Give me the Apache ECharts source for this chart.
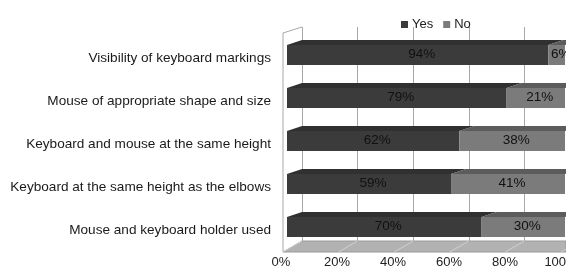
<!DOCTYPE html>
<html>
<head>
<meta charset="utf-8">
<script src="https://cdn.jsdelivr.net/npm/echarts@6/dist/echarts.min.js"></script>
<style>
  html, body { margin: 0; padding: 0; background: #fff; }
  #chart { width: 566px; height: 273px; }
</style>
</head>
<body>
<div id="chart"></div>
<script>
// data
const categories = [
  'Visibility of keyboard markings',
  'Mouse of appropriate shape and size',
  'Keyboard and mouse at the same height',
  'Keyboard at the same height as the elbows',
  'Mouse and keyboard holder used'
];
const yesValues = [94, 79, 62, 59, 70];
const noValues = [6, 21, 38, 41, 30];
const tickValues = [0, 20, 40, 60, 80, 100];

const YES = '#3b3b3b';
const NO = '#7b7b7b';
const DX = 15, DY = 5, BAR_W = 20;
const FONT = 'Liberation Sans, Arial';

const chart = echarts.init(document.getElementById('chart'));

// top face of every segment (fake 3D)
const topData = [];
categories.forEach((c, i) => {
  topData.push([0, yesValues[i], i, 0]);
  topData.push([yesValues[i], yesValues[i] + noValues[i], i, 1]);
});

function renderTop(params, api) {
  const a = api.coord([api.value(0), api.value(2)]);
  const b = api.coord([api.value(1), api.value(2)]);
  const y = a[1] - BAR_W / 2;
  return {
    type: 'polygon',
    shape: { points: [[a[0], y], [b[0], y], [b[0] + DX, y - DY], [a[0] + DX, y - DY]] },
    style: { fill: api.value(3) === 0 ? '#303030' : '#5c5c5c' }
  };
}

// slanted dividers on the floor
function renderFloor(params, api) {
  const p = api.coord([api.value(0), 0]);
  return {
    type: 'line',
    shape: { x1: p[0], y1: p[1], x2: p[0] - 19, y2: p[1] + 11 },
    style: { stroke: '#d0d0d0', lineWidth: 1 }
  };
}

const barLabel = (shadow) => ({
  show: true,
  position: 'inside',
  offset: [4, -1],
  formatter: '{c}%',
  fontFamily: FONT,
  fontSize: 13.5,
  color: '#111',
  textShadowColor: shadow,
  textShadowOffsetX: 1,
  textShadowBlur: 0
});

chart.setOption({
  animation: false,
  legend: {
    data: ['Yes', 'No'],
    left: 396,
    top: 13,
    itemWidth: 7,
    itemHeight: 7,
    itemGap: 10,
    icon: 'rect',
    textStyle: { fontFamily: FONT, fontSize: 13, color: '#222', padding: [0, 0, 0, -1] }
  },
  graphic: [
    { type: 'polyline', shape: { points: [[302, 27], [283, 33], [283, 252]] },
      style: { stroke: '#a8a8a8', lineWidth: 1, fill: null } },
    { type: 'polygon', z: -1, shape: { points: [[283, 252], [566, 252], [566, 241], [302, 241]] },
      style: { fill: '#b2b2b2', stroke: '#9a9a9a', lineWidth: 1 } }
  ],
  grid: [
    { left: 287, width: 278, top: 33.5, height: 215, outerBoundsMode: 'none' },
    { left: 302, width: 278, top: 27, height: 214, outerBoundsMode: 'none' },
    { left: 281, width: 280, top: 36.5, height: 215, outerBoundsMode: 'none' }
  ],
  xAxis: [
    { gridIndex: 0, type: 'value', min: 0, max: 100, show: false },
    { gridIndex: 1, type: 'value', min: 0, max: 100, interval: 20,
      axisLine: { show: false }, axisTick: { show: false }, axisLabel: { show: false },
      splitLine: { show: true, lineStyle: { color: '#a8a8a8', width: 1 } } },
    { gridIndex: 2, type: 'value', min: 0, max: 100, interval: 20,
      axisLine: { show: false }, axisTick: { show: false }, splitLine: { show: false },
      axisLabel: { formatter: '{value}%', margin: 4, fontFamily: FONT, fontSize: 13, color: '#222',
        showMaxLabel: true, hideOverlap: false } }
  ],
  yAxis: [
    { gridIndex: 0, type: 'category', data: categories, inverse: true, show: false },
    { gridIndex: 1, type: 'value', min: 0, max: 1, show: false },
    { gridIndex: 2, type: 'category', data: categories, inverse: true,
      axisLine: { show: false }, axisTick: { show: false },
      axisLabel: { margin: 10, fontFamily: FONT, fontSize: 13.6, color: '#1a1a1a' } }
  ],
  series: [
    { name: 'Floor', type: 'custom', xAxisIndex: 1, yAxisIndex: 1, z: 0,
      data: tickValues.map(v => [v]), renderItem: renderFloor, silent: true },
    { name: 'Yes', type: 'bar', stack: 'total', xAxisIndex: 0, yAxisIndex: 0, barWidth: BAR_W,
      data: yesValues, itemStyle: { color: YES }, label: barLabel('#555'), z: 3 },
    { name: 'No', type: 'bar', stack: 'total', xAxisIndex: 0, yAxisIndex: 0, barWidth: BAR_W,
      data: noValues, itemStyle: { color: NO }, label: barLabel('#333'), z: 3 },
    { name: 'Top', type: 'custom', xAxisIndex: 0, yAxisIndex: 0, z: 3,
      data: topData, renderItem: renderTop, silent: true }
  ]
});

window.addEventListener('resize', () => chart.resize());
</script>
</body>
</html>
